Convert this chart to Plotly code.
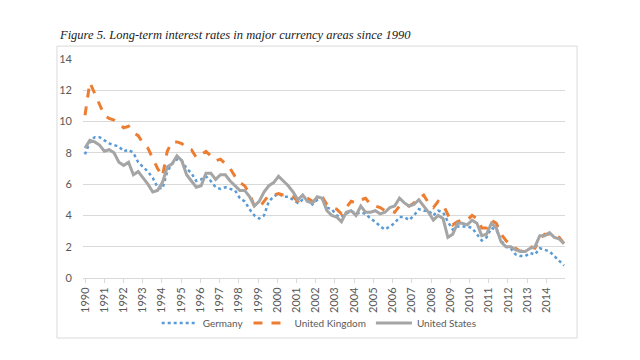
import pandas as pd
import plotly.graph_objects as go

# Quarterly long-term interest rates (%), 1990Q1 .. 2014Q4
germany = [
    7.9, 8.7, 9.0, 9.0,
    8.8, 8.6, 8.5, 8.4,
    8.1, 8.2, 8.0, 7.4,
    7.1, 6.8, 6.4, 5.8,
    5.7, 6.8, 7.3, 7.6,
    7.5, 7.0, 6.7, 6.2,
    6.3, 6.5, 6.2, 5.8,
    5.7, 5.8, 5.7, 5.6,
    5.1, 4.9, 4.4, 4.0,
    3.8, 4.0, 4.9, 5.2,
    5.4, 5.2, 5.2, 5.0,
    4.8, 5.0, 4.9, 4.7,
    5.0, 5.1, 4.5, 4.4,
    4.0, 3.9, 4.1, 4.3,
    4.1, 4.2, 4.1, 3.8,
    3.6, 3.3, 3.1, 3.3,
    3.5, 3.9, 3.9, 3.7,
    4.0, 4.4, 4.3, 4.3,
    4.0, 4.3, 4.2, 3.6,
    3.1, 3.3, 3.3, 3.3,
    3.2, 2.8, 2.4, 2.6,
    3.2, 3.1, 2.4, 2.0,
    1.9, 1.5, 1.4, 1.4,
    1.6, 1.5, 1.9, 1.8,
    1.7, 1.4, 1.1, 0.8,
]
united_kingdom = [
    10.4, 12.5, 11.8, 11.1,
    10.4, 10.2, 10.1, 9.9,
    9.6, 9.7, 9.3, 9.1,
    8.6, 8.3, 7.6, 7.0,
    6.5, 8.1, 8.7, 8.7,
    8.6, 8.3, 8.2, 7.7,
    7.9, 8.1, 7.8, 7.5,
    7.6, 7.3, 7.0, 6.5,
    6.1, 5.9, 5.4, 4.6,
    4.5, 4.9, 5.3, 5.3,
    5.4, 5.3, 5.3, 5.2,
    4.9, 5.1, 5.1, 4.9,
    4.9, 5.2, 4.7, 4.5,
    4.4, 4.1, 4.5, 4.9,
    4.8, 5.0, 5.1, 4.7,
    4.6, 4.5, 4.3, 4.3,
    4.2, 4.6, 4.7, 4.6,
    4.8, 5.1, 5.3, 4.8,
    4.5, 4.9, 4.7, 4.1,
    3.4, 3.6, 3.7, 3.7,
    4.0, 3.8, 3.2, 3.2,
    3.7, 3.5, 2.8, 2.4,
    2.1, 1.9, 1.7, 1.8,
    2.0, 1.9, 2.5, 2.8,
    2.8, 2.7, 2.6, 2.2,
]
united_states = [
    8.3, 8.8, 8.7, 8.5,
    8.1, 8.2, 8.0, 7.4,
    7.2, 7.4, 6.6, 6.8,
    6.4, 6.0, 5.5, 5.6,
    6.1, 7.1, 7.3, 7.8,
    7.5, 6.6, 6.2, 5.8,
    5.9, 6.7, 6.7, 6.3,
    6.6, 6.6, 6.2, 5.9,
    5.6, 5.6, 5.2, 4.6,
    4.9, 5.5, 5.9, 6.1,
    6.5, 6.2, 5.9, 5.5,
    5.0, 5.3, 4.9, 4.8,
    5.2, 5.1, 4.3, 4.0,
    3.9, 3.6, 4.2, 4.3,
    4.0, 4.6, 4.2, 4.2,
    4.3, 4.1, 4.2, 4.5,
    4.6, 5.1, 4.8, 4.6,
    4.7, 5.0, 4.6, 4.2,
    3.7, 4.0, 3.8, 2.6,
    2.8, 3.5, 3.5, 3.4,
    3.7, 3.5, 2.7, 2.8,
    3.5, 3.2, 2.3, 2.0,
    2.0, 1.8, 1.7, 1.7,
    1.9, 2.0, 2.7, 2.7,
    2.9, 2.6, 2.5, 2.2,
]
dates = pd.date_range("1990-01-01", "2014-12-01", periods=len(germany))

font_family = "Lato, 'Open Sans', sans-serif"
label_color = "#595959"

fig = go.Figure()
fig.add_trace(go.Scatter(x=dates, y=germany, mode="lines", name="Germany",
                         line=dict(color="#5B9BD5", width=2.5, dash="dot")))
fig.add_trace(go.Scatter(x=dates, y=united_kingdom, mode="lines", name="United Kingdom",
                         line=dict(color="#ED7D31", width=3, dash="dash")))
fig.add_trace(go.Scatter(x=dates, y=united_states, mode="lines", name="United States",
                         line=dict(color="#A5A5A5", width=3)))

# the page body has an 8px default margin, so the figure is sized to fit inside it
fig.update_layout(
    width=632, height=352,
    margin=dict(l=75, r=75, t=51, b=82),
    paper_bgcolor="white", plot_bgcolor="white",
    font=dict(family=font_family, size=11, color=label_color),
    showlegend=True,
    legend=dict(orientation="h", x=0.49, xanchor="center", y=-0.205, yanchor="middle",
                font=dict(size=10, color=label_color), itemwidth=36,
                bgcolor="rgba(0,0,0,0)"),
    xaxis=dict(type="date", range=["1989-11-24", "2014-12-20"],
               tick0="1990-01-01", dtick="M12", tickformat="%Y", tickangle=-90,
               showgrid=False, showline=True, linecolor="#d9d9d9", linewidth=1,
               ticks="outside", ticklen=4, tickcolor="#d9d9d9",
               tickfont=dict(size=11, color=label_color), zeroline=False),
    yaxis=dict(range=[0, 14], dtick=2, showgrid=True, gridcolor="#d9d9d9", gridwidth=1,
               zeroline=False, showline=False, ticks="", ticklabelstandoff=10,
               tickfont=dict(size=11, color=label_color)),
    shapes=[dict(type="rect", xref="paper", yref="paper",
                 x0=-0.054, x1=1.025, y0=-0.274, y1=1.059,
                 line=dict(color="#d9d9d9", width=1), layer="below")],
    annotations=[dict(xref="paper", yref="paper", x=-0.054, y=1.11,
                      xanchor="left", yanchor="middle", showarrow=False,
                      text="<i>Figure 5. Long-term interest rates in major currency areas since 1990</i>",
                      font=dict(family="'Liberation Serif', 'DejaVu Serif', serif", size=12.5, color="#222222"))],
)

fig.write_html("out.html")
